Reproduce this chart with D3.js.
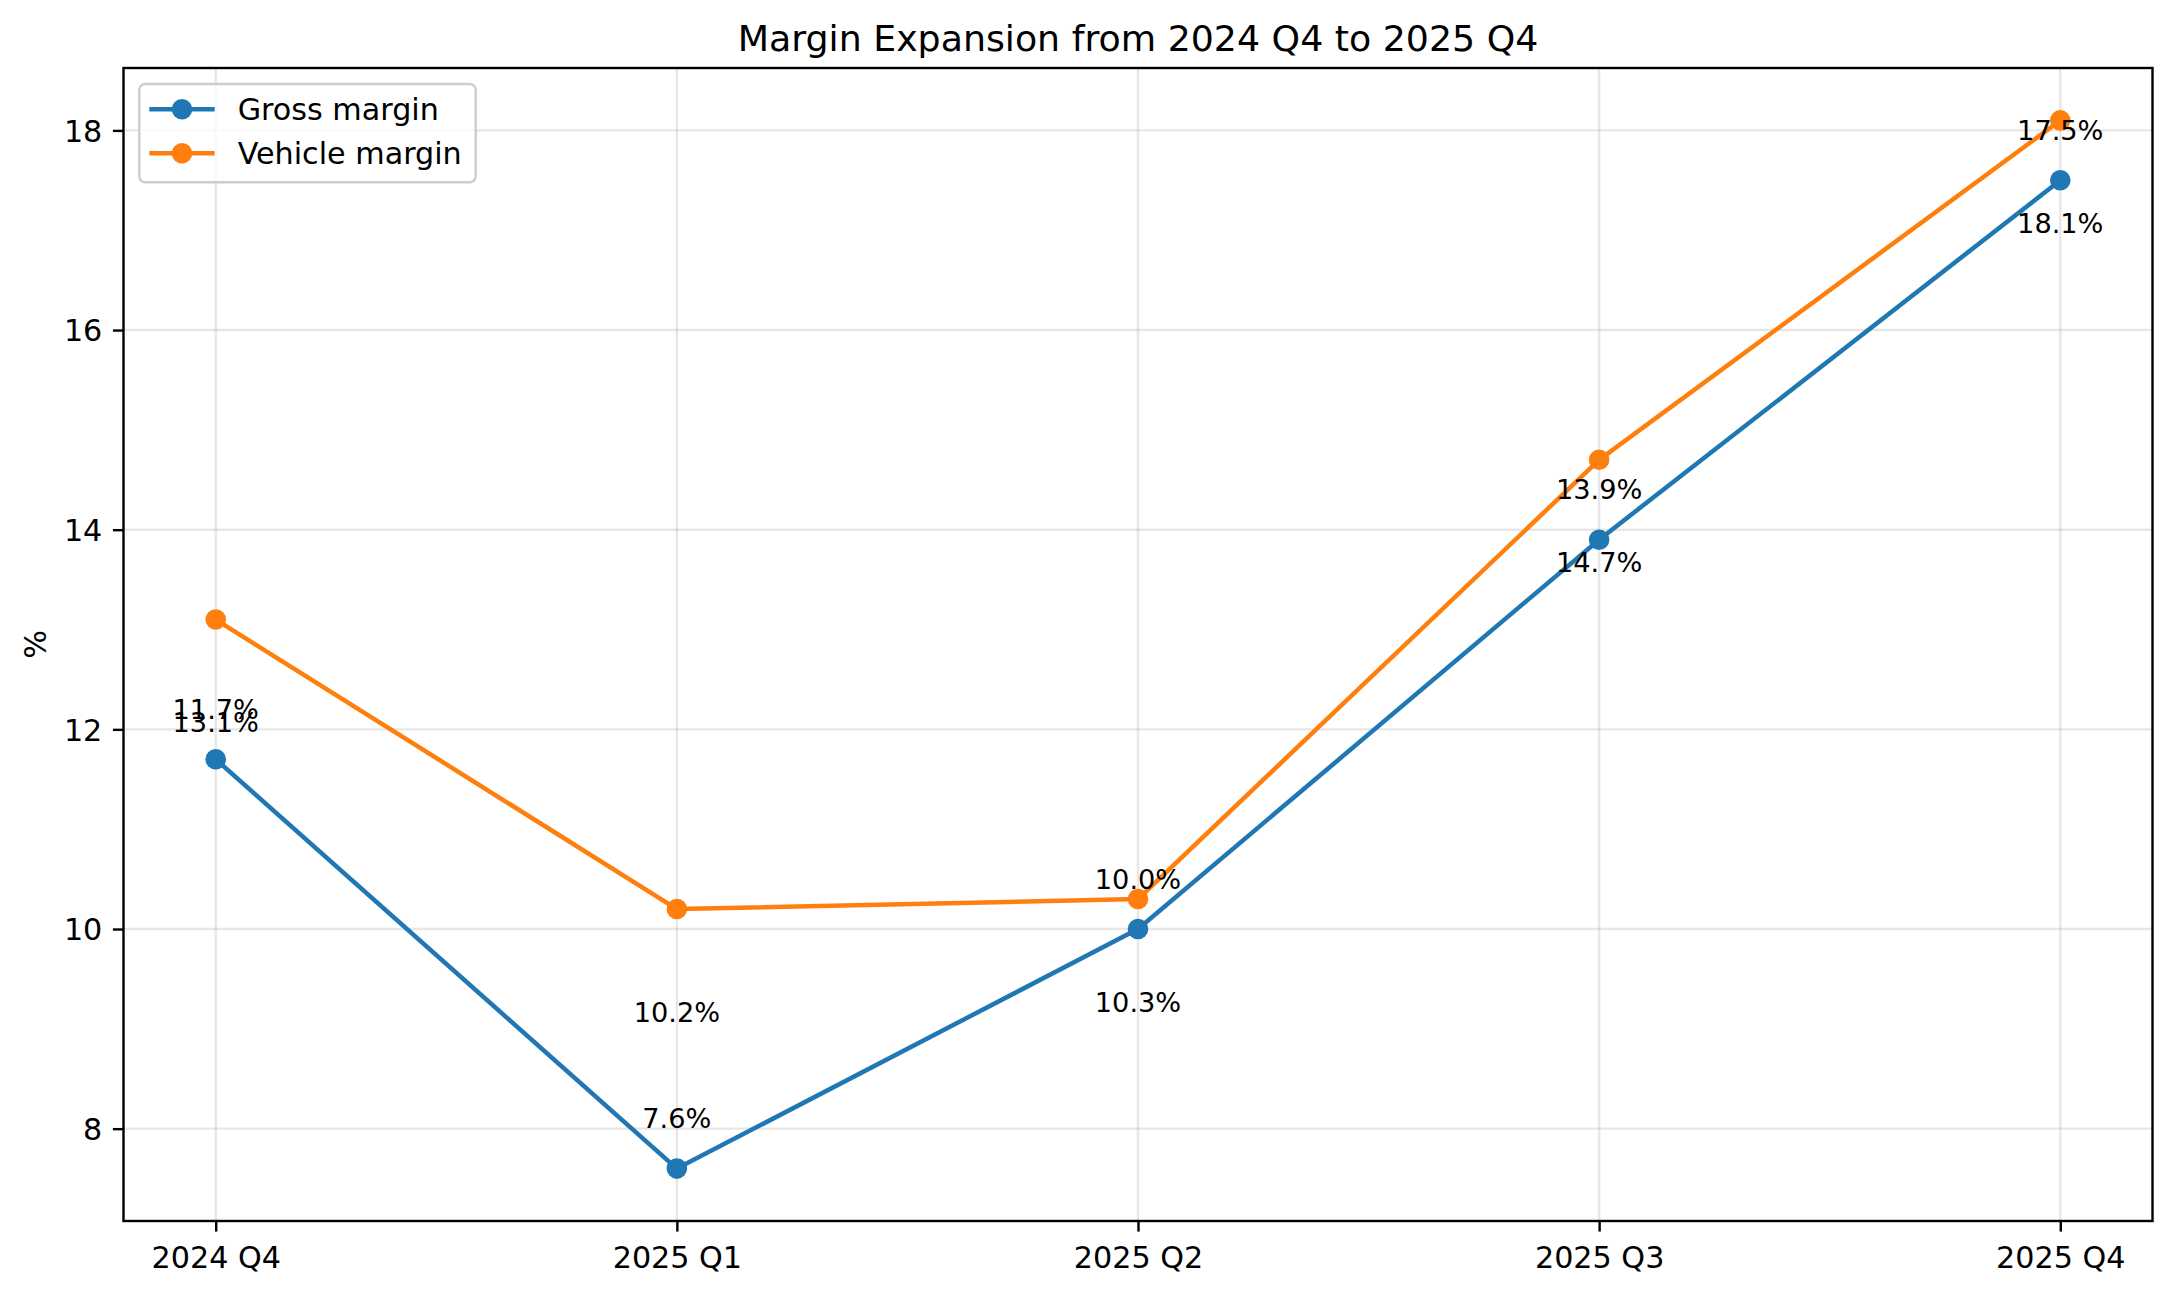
<!DOCTYPE html>
<html>
<head>
<meta charset="utf-8">
<script src="https://cdn.jsdelivr.net/npm/d3@7.9.0/dist/d3.min.js"></script>
<style>
  html, body { margin: 0; padding: 0; background: #fff; }
  svg { display: block; font-family: "DejaVu Sans", sans-serif; }
</style>
</head>
<body>
<svg id="chart" width="2176" height="1294"></svg>
<script>
// data
const quarters = ['2024 Q4', '2025 Q1', '2025 Q2', '2025 Q3', '2025 Q4'];
const grossMargin = [11.7, 7.6, 10.0, 13.9, 17.5];
const vehicleMargin = [13.1, 10.2, 10.3, 14.7, 18.1];
const yTicks = [8, 10, 12, 14, 16, 18];

const plotL = 123.5, plotR = 2152.5, plotT = 68, plotB = 1221;
const blue = '#1f77b4', orange = '#ff7f0e';

const svg = d3.select('#chart');

// matplotlib style 5% margins
const allVals = grossMargin.concat(vehicleMargin);
const yMin = d3.min(allVals), yMax = d3.max(allVals);
const pad = (yMax - yMin) * 0.05;

const x = d3.scaleLinear().domain([-0.2, quarters.length - 1 + 0.2]).range([plotL, plotR]);
const y = d3.scaleLinear().domain([yMin - pad, yMax + pad]).range([plotB, plotT]);

// grid
const grid = svg.append('g');
grid.selectAll('.gx').data(quarters).join('line')
  .attr('x1', (d, i) => x(i)).attr('x2', (d, i) => x(i))
  .attr('y1', plotT).attr('y2', plotB)
  .attr('stroke', '#b0b0b0').attr('stroke-opacity', 0.3).attr('stroke-width', 2.4);
grid.selectAll('.gy').data(yTicks).join('line')
  .attr('x1', plotL).attr('x2', plotR)
  .attr('y1', d => y(d)).attr('y2', d => y(d))
  .attr('stroke', '#b0b0b0').attr('stroke-opacity', 0.3).attr('stroke-width', 2.4);

// axes
const xAxis = d3.axisBottom(x)
  .tickValues(d3.range(quarters.length))
  .tickFormat(i => quarters[i])
  .tickSize(10.6).tickPadding(10.6);
const gx = svg.append('g').attr('transform', `translate(0,${plotB})`).call(xAxis);

const yAxis = d3.axisLeft(y).tickValues(yTicks).tickFormat(d3.format('d'))
  .tickSize(10.6).tickPadding(10.6);
const gy = svg.append('g').attr('transform', `translate(${plotL},0)`).call(yAxis);

[gx, gy].forEach(g => {
  g.select('.domain').remove();
  g.selectAll('.tick line').attr('stroke', '#000').attr('stroke-width', 2.4);
  g.selectAll('.tick text').attr('fill', '#000')
    .style('font-family', '"DejaVu Sans", sans-serif').style('font-size', '30.2px');
});
gx.selectAll('.tick text').attr('dy', null).attr('y', 46.7);
gy.selectAll('.tick text').attr('dy', '0.36em');

// lines + markers
const line = d3.line().x((d, i) => x(i)).y(d => y(d));
const series = [
  { name: 'Gross margin', values: grossMargin, color: blue },
  { name: 'Vehicle margin', values: vehicleMargin, color: orange }
];
series.forEach(s => {
  svg.append('path').datum(s.values)
    .attr('d', line).attr('fill', 'none')
    .attr('stroke', s.color).attr('stroke-width', 4.5)
    .attr('stroke-linejoin', 'round').attr('stroke-linecap', 'square');
  svg.append('g').selectAll('circle').data(s.values).join('circle')
    .attr('cx', (d, i) => x(i)).attr('cy', d => y(d))
    .attr('r', 10.3).attr('fill', s.color);
});

// value labels (as placed in the original)
const labels = svg.append('g').attr('text-anchor', 'middle')
  .style('font-size', '27.2px').attr('fill', '#000');
labels.selectAll('.lg').data(grossMargin).join('text')
  .attr('x', (d, i) => x(i)).attr('y', d => y(d) - 40.5)
  .text(d => d.toFixed(1) + '%');
labels.selectAll('.lv').data(vehicleMargin).join('text')
  .attr('x', (d, i) => x(i)).attr('y', d => y(d) + 112.6)
  .text(d => d.toFixed(1) + '%');

// frame
svg.append('rect')
  .attr('x', plotL).attr('y', plotT)
  .attr('width', plotR - plotL).attr('height', plotB - plotT)
  .attr('fill', 'none').attr('stroke', '#000').attr('stroke-width', 2.4);

// title and y label
svg.append('text')
  .attr('x', (plotL + plotR) / 2).attr('y', 50.7)
  .attr('text-anchor', 'middle').style('font-size', '36.3px')
  .text('Margin Expansion from 2024 Q4 to 2025 Q4');

svg.append('text')
  .attr('transform', `translate(35,${(plotT + plotB) / 2}) rotate(-90)`)
  .attr('text-anchor', 'middle').attr('dy', '0.35em')
  .style('font-size', '30.2px')
  .text('%');

// legend
const lg = svg.append('g');
lg.append('rect')
  .attr('x', 139.3).attr('y', 84).attr('width', 336.4).attr('height', 98.3)
  .attr('rx', 6).attr('fill', '#fff').attr('fill-opacity', 0.8)
  .attr('stroke', '#cccccc').attr('stroke-width', 2.4);
series.forEach((s, i) => {
  const cy = 109.3 + i * 44;
  lg.append('line')
    .attr('x1', 149.3).attr('x2', 214.7).attr('y1', cy).attr('y2', cy)
    .attr('stroke', s.color).attr('stroke-width', 4.5);
  lg.append('circle').attr('cx', 182).attr('cy', cy).attr('r', 10.3).attr('fill', s.color);
  lg.append('text').attr('x', 237.7).attr('y', cy + 10.7)
    .style('font-size', '30.2px').attr('fill', '#000')
    .text(s.name);
});
</script>
</body>
</html>
